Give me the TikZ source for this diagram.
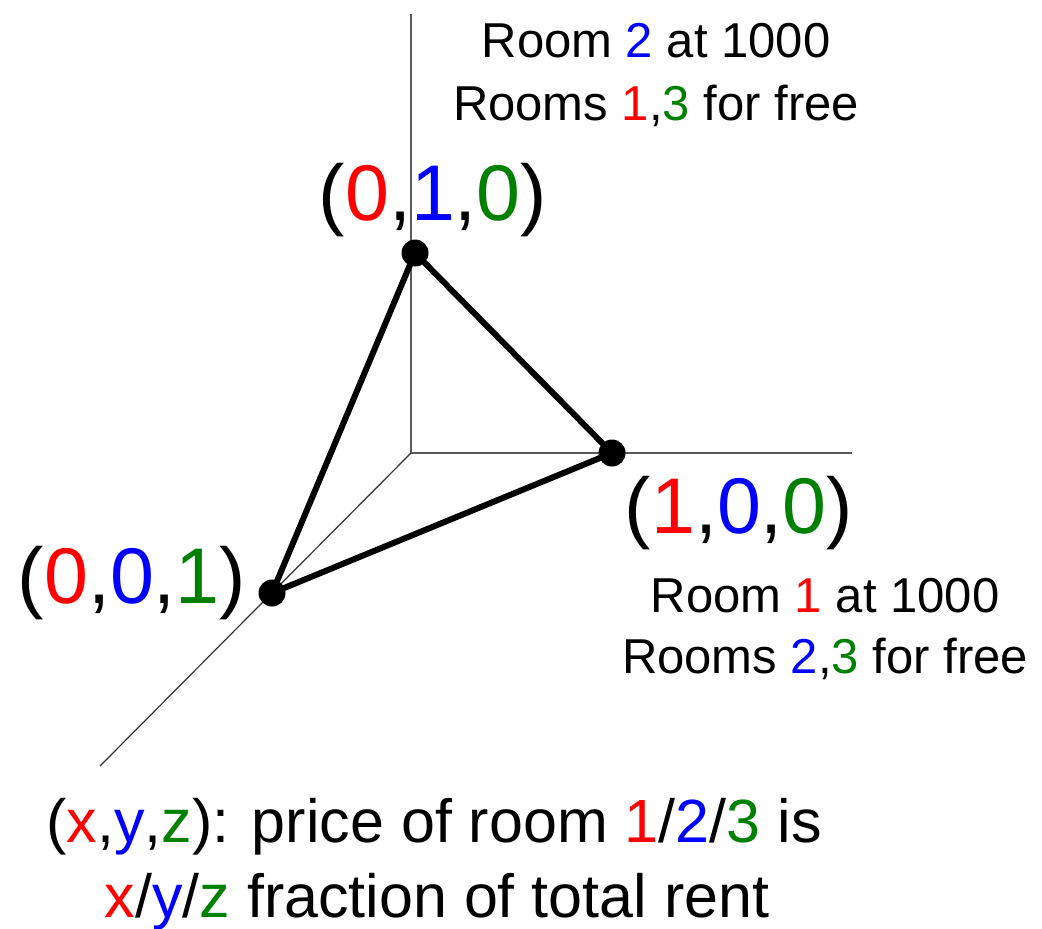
\documentclass[tikz,border=0pt]{standalone}
\usepackage{fontspec}
\setmainfont{Liberation Sans}
\definecolor{rred}{RGB}{255,0,0}
\definecolor{rblue}{RGB}{0,0,255}
\definecolor{rgreen}{RGB}{0,128,0}
\newcommand{\rr}[1]{\textcolor{rred}{#1}}
\newcommand{\rb}[1]{\textcolor{rblue}{#1}}
\newcommand{\rg}[1]{\textcolor{rgreen}{#1}}
\begin{document}
\begin{tikzpicture}[x=1pt,y=-1pt,
  axis/.style={black!65,line width=1.6pt},
  edge/.style={line width=6pt,line cap=round,line join=round},
  vertex/.style={circle,fill,inner sep=0pt,minimum size=27pt},
  coordlabel/.style={anchor=base,inner sep=0pt,font=\fontsize{79}{90}\selectfont},
  roomlabel/.style={anchor=base,inner sep=0pt,font=\fontsize{49}{60}\selectfont},
  legendlabel/.style={anchor=base,inner sep=0pt,font=\fontsize{61}{75}\selectfont}]
  \useasboundingbox (0,0) rectangle (1042,929);
  % axes
  \coordinate (O) at (411,453);
  \coordinate (ytop) at (411,14);
  \coordinate (xend) at (852,453);
  \coordinate (zend) at (100,766);
  \draw[axis] (O) -- (ytop);
  \draw[axis,line width=2pt] (O) -- (xend);
  \draw[axis,black!80,line width=1.2pt] (O) -- (zend);
  % simplex
  \node[vertex] (v010) at (415,253) {};
  \node[vertex] (v100) at (612,453) {};
  \node[vertex] (v001) at (272,593) {};
  \draw[edge] (v010.center) -- (v100.center) -- (v001.center) -- cycle;
  % vertex labels
  \node[coordlabel] (l010) at (433,220) {(\rr{0},\rb{1},\rg{0})};
  \node[coordlabel] (l100) at (739,533) {(\rr{1},\rb{0},\rg{0})};
  \node[coordlabel] (l001) at (132,603) {(\rr{0},\rb{0},\rg{1})};
  % room prices
  \node[roomlabel] (r2a) at (656,57) {Room \rb{2} at 1000};
  \node[roomlabel] (r2b) at (656,120) {Rooms \rr{1},\rg{3} for free};
  \node[roomlabel] (r1a) at (825,612) {Room \rr{1} at 1000};
  \node[roomlabel] (r1b) at (825,673) {Rooms \rb{2},\rg{3} for free};
  % legend
  \node[legendlabel] (leg1) at (434,842) {(\rr{x},\rb{y},\rg{z}): price of room \rr{1}/\rb{2}/\rg{3} is};
  \node[legendlabel] (leg2) at (437,917) {\rr{x}/\rb{y}/\rg{z} fraction of total rent};
\end{tikzpicture}
\end{document}
